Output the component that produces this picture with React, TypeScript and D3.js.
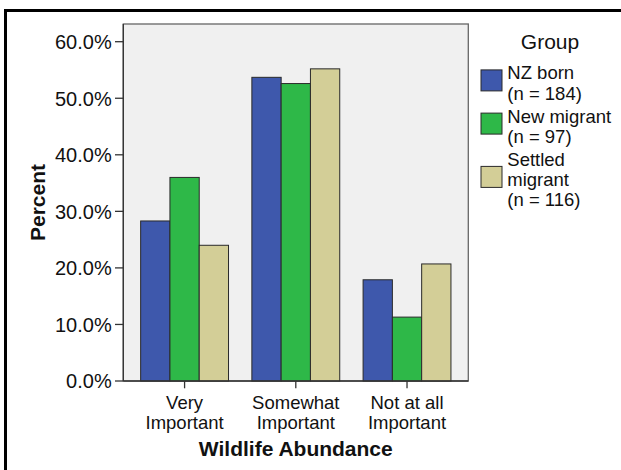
import React from "react";
import * as d3 from "d3";

const categories = ["Very Important", "Somewhat Important", "Not at all Important"];
const categoryLines = [["Very", "Important"], ["Somewhat", "Important"], ["Not at all", "Important"]];
const groups = ["NZ born", "New migrant", "Settled migrant"];
const legendLines = [["NZ born", "(n = 184)"], ["New migrant", "(n = 97)"], ["Settled", "migrant", "(n = 116)"]];
const nzBorn = [28.3, 53.7, 17.9];
const newMigrant = [36.0, 52.6, 11.3];
const settledMigrant = [24.0, 55.2, 20.7];
const yTicks = [0, 10, 20, 30, 40, 50, 60];
const colors = ["#3E58AC", "#2EB848", "#D3CE97"];

const W = 621;
const H = 470;
const plot = { left: 123.3, right: 468.3, top: 24, bottom: 381 };
const FONT = "Liberation Sans, Arial, Helvetica, sans-serif";
const LINE = 20.2;

export default function App() {
  const series = [nzBorn, newMigrant, settledMigrant];
  const x = d3
    .scaleBand<string>()
    .domain(categories)
    .range([plot.left, plot.right])
    .paddingInner(0.21)
    .paddingOuter(0.156);
  const xg = d3.scaleBand<string>().domain(groups).range([0, x.bandwidth()]);
  const y = d3.scaleLinear().domain([0, 63.13]).range([plot.bottom, plot.top]);
  const fmt = d3.format(".1f");

  // legend layout
  let baseline = 79.3;
  const legendItems = legendLines.map((lines, i) => {
    const first = baseline;
    const last = first + (lines.length - 1) * LINE;
    baseline = last + 23;
    return { i, lines, first, swatchCenter: (first + last) / 2 - 9 };
  });

  return (
    <svg
      width={W}
      height={H}
      style={{ position: "absolute", left: 0, top: 0, background: "#fff" }}
      fontFamily={FONT}
    >
      <rect x={0} y={0} width={W} height={H} fill="#fff" />
      <rect x={5.5} y={10.5} width={640} height={480} fill="none" stroke="#000" strokeWidth={3} />

      {/* plot area */}
      <rect
        x={plot.left}
        y={plot.top}
        width={plot.right - plot.left}
        height={plot.bottom - plot.top}
        fill="#F0F0F0"
        stroke="#666"
        strokeWidth={1.3}
      />

      {/* bars */}
      {categories.map((c, ci) => (
        <g key={c}>
          {groups.map((g, gi) => {
            const v = series[gi][ci];
            const bx = (x(c) as number) + (xg(g) as number);
            return (
              <rect
                key={g}
                x={bx}
                y={y(v)}
                width={xg.bandwidth()}
                height={y(0) - y(v)}
                fill={colors[gi]}
                stroke="#2a2a2a"
                strokeWidth={1}
              />
            );
          })}
        </g>
      ))}

      {/* axes lines */}
      <line x1={plot.left} x2={plot.left} y1={plot.top} y2={plot.bottom} stroke="#333" strokeWidth={1.3} />
      <line x1={plot.left} x2={plot.right} y1={plot.bottom} y2={plot.bottom} stroke="#333" strokeWidth={1.3} />

      {/* y ticks */}
      {yTicks.map((t) => (
        <g key={t}>
          <line x1={115} x2={plot.left} y1={y(t)} y2={y(t)} stroke="#333" strokeWidth={1.3} />
          <text x={111.7} y={y(t) + 7.3} textAnchor="end" fontSize={20} fill="#111">
            {fmt(t)}%
          </text>
        </g>
      ))}

      {/* x ticks */}
      {categories.map((c, ci) => {
        const cx = (x(c) as number) + x.bandwidth() / 2;
        return (
          <g key={c}>
            <line x1={cx} x2={cx} y1={plot.bottom} y2={388.3} stroke="#333" strokeWidth={1.3} />
            <text x={cx} y={409} textAnchor="middle" fontSize={18.5} fill="#111">
              {categoryLines[ci].map((l, li) => (
                <tspan key={li} x={cx} dy={li === 0 ? 0 : LINE}>
                  {l}
                </tspan>
              ))}
            </text>
          </g>
        );
      })}

      {/* axis titles */}
      <text
        x={(plot.left + plot.right) / 2}
        y={456}
        textAnchor="middle"
        fontSize={21}
        fontWeight="bold"
        fill="#111"
      >
        Wildlife Abundance
      </text>
      <text
        transform={`translate(45, ${(plot.top + plot.bottom) / 2}) rotate(-90)`}
        textAnchor="middle"
        fontSize={21}
        fontWeight="bold"
        fill="#111"
      >
        Percent
      </text>

      {/* legend */}
      <text x={550} y={49.3} textAnchor="middle" fontSize={21} fill="#111">
        Group
      </text>
      {legendItems.map((it) => (
        <g key={it.i}>
          <rect
            x={481}
            y={it.swatchCenter - 10.5}
            width={21}
            height={21}
            fill={colors[it.i]}
            stroke="#2a2a2a"
            strokeWidth={1}
          />
          <text x={507.3} y={it.first} fontSize={18.5} fill="#111">
            {it.lines.map((l, li) => (
              <tspan key={li} x={507.3} dy={li === 0 ? 0 : LINE}>
                {l}
              </tspan>
            ))}
          </text>
        </g>
      ))}
    </svg>
  );
}
